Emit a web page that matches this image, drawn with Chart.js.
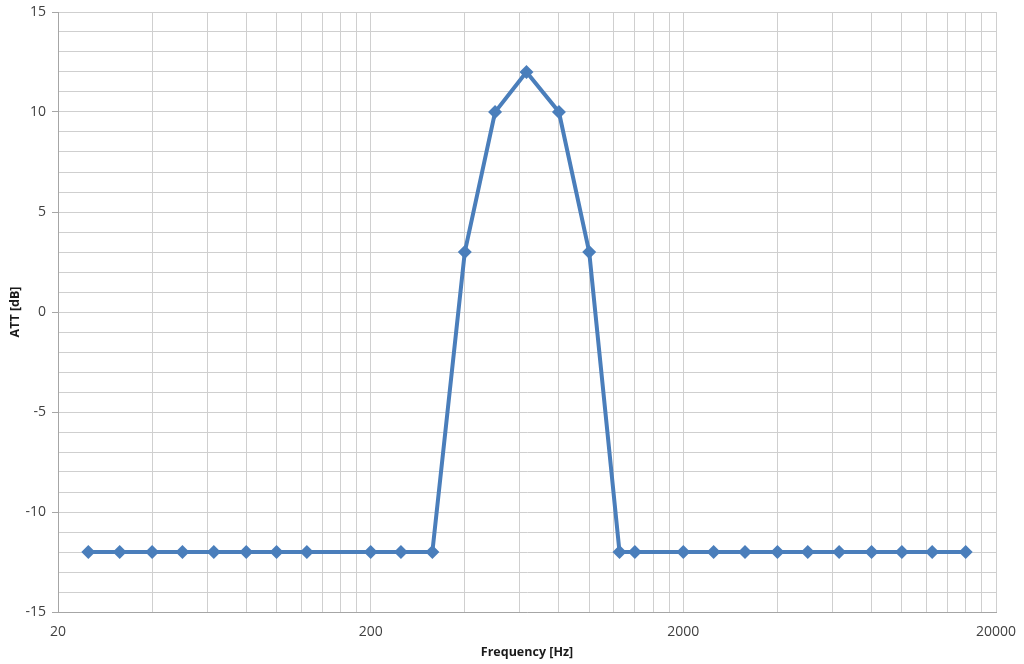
<!DOCTYPE html>
<html>
<head>
<meta charset="utf-8">
<script src="https://cdn.jsdelivr.net/npm/chart.js@4"></script>
<style>
  html, body { margin: 0; padding: 0; background: #fff; }
  #wrap { width: 1024px; height: 664px; }
</style>
</head>
<body>
<div id="wrap"><canvas id="attChart" width="1024" height="664"></canvas></div>
<script>
// ===============================
// Data
// ===============================
const freqs = [25, 31.5, 40, 50, 63, 80, 100, 125, 200, 250, 315, 400, 500, 630, 800, 1000,
               1250, 1400, 2000, 2500, 3150, 4000, 5000, 6300, 8000, 10000, 12500, 16000];
const att = [-12, -12, -12, -12, -12, -12, -12, -12, -12, -12, -12, 3, 10, 12, 10, 3,
             -12, -12, -12, -12, -12, -12, -12, -12, -12, -12, -12, -12];
const xTickLabels = [20, 200, 2000, 20000];
const yTickLabels = [-15, -10, -5, 0, 5, 10, 15];

const gridColor = '#cfcfcf';
const axisColor = '#a6a6a6';
const textColor = '#404040';

// excel style minor lines: 20, 40, 60 ... 180, 200, 400 ...
const xGrid = [];
xTickLabels.slice(0, -1).forEach(d => {
    for (let k = 1; k < 10; k++) xGrid.push(d * k);
});
xGrid.push(xTickLabels[xTickLabels.length - 1]);

const points = freqs.map((f, i) => ({ x: f, y: att[i] }));

new Chart(document.getElementById('attChart').getContext('2d'), {
    type: 'line',
    data: {
        datasets: [{
            data: points,
            borderColor: '#4a7ebb',
            backgroundColor: '#4a7ebb',
            borderWidth: 4,
            pointStyle: 'rectRot',
            pointRadius: 7,
            pointBorderWidth: 0,
            tension: 0
        }]
    },
    options: {
        responsive: false,
        animation: false,
        layout: { padding: { top: 12, right: 28, left: 8, bottom: 4 } },
        plugins: { legend: { display: false }, tooltip: { enabled: false } },
        scales: {
            x: {
                type: 'logarithmic',
                min: 20,
                max: 20000,
                afterBuildTicks: scale => { scale.ticks = xGrid.map(v => ({ value: v })); },
                afterFit: scale => {
                    scale.height = 48;
                    scale.paddingLeft = 0;
                    scale.paddingRight = 0;
                },
                border: { color: axisColor, width: 1 },
                grid: { color: gridColor, drawTicks: false },
                ticks: {
                    autoSkip: false,
                    maxRotation: 0,
                    padding: 12,
                    color: textColor,
                    font: { family: 'Open Sans', size: 14 },
                    callback: v => xTickLabels.includes(v) ? String(v) : ''
                },
                title: {
                    display: true,
                    text: 'Frequency [Hz]',
                    color: '#1a1a1a',
                    font: { family: 'Open Sans', size: 12.5, weight: 'bold' },
                    padding: { top: 0, bottom: 0 }
                }
            },
            y: {
                min: -15,
                max: 15,
                afterFit: scale => {
                    scale.width = 50;
                    scale.paddingTop = 0;
                    scale.paddingBottom = 0;
                },
                border: { color: axisColor, width: 1 },
                grid: {
                    color: gridColor,
                    tickLength: 6,
                    tickColor: c => (c.tick && yTickLabels.includes(c.tick.value)) ? axisColor : 'rgba(0,0,0,0)'
                },
                ticks: {
                    stepSize: 1,
                    autoSkip: false,
                    padding: 6,
                    color: textColor,
                    font: { family: 'Open Sans', size: 14 },
                    callback: v => yTickLabels.includes(v) ? String(v) : ''
                },
                title: {
                    display: true,
                    text: 'ATT [dB]',
                    color: '#1a1a1a',
                    font: { family: 'Open Sans', size: 12.5, weight: 'bold' },
                    padding: { top: 0, bottom: 0 }
                }
            }
        }
    }
});
</script>
</body>
</html>
